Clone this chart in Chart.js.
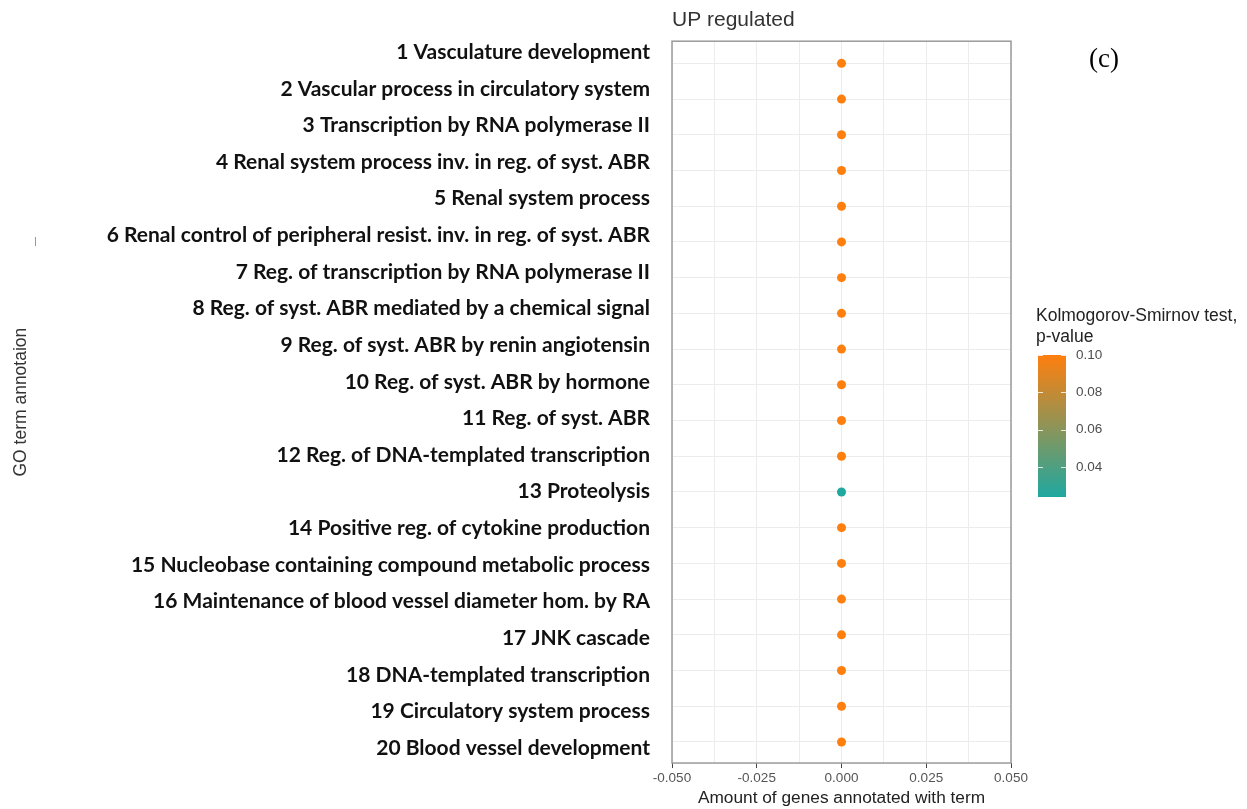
<!DOCTYPE html>
<html>
<head>
<meta charset="utf-8">
<script src="https://cdn.jsdelivr.net/npm/chart.js@4.4.1/dist/chart.umd.min.js"></script>
<style>
  html, body { margin: 0; padding: 0; background: #fff; }
  #wrap { width: 1247px; height: 809px; position: relative; }
</style>
</head>
<body>
<div id="wrap"><canvas id="c"></canvas></div>
<script>
  // GO terms, top to bottom
  const terms = [
    '1 Vasculature development',
    '2 Vascular process in circulatory system',
    '3 Transcription by RNA polymerase II',
    '4 Renal system process inv. in reg. of syst. ABR',
    '5 Renal system process',
    '6 Renal control of peripheral resist. inv. in reg. of syst. ABR',
    '7 Reg. of transcription by RNA polymerase II',
    '8 Reg. of syst. ABR mediated by a chemical signal',
    '9 Reg. of syst. ABR by renin angiotensin',
    '10 Reg. of syst. ABR by hormone',
    '11 Reg. of syst. ABR',
    '12 Reg. of DNA-templated transcription',
    '13 Proteolysis',
    '14 Positive reg. of cytokine production',
    '15 Nucleobase containing compound metabolic process',
    '16 Maintenance of blood vessel diameter hom. by RA',
    '17 JNK cascade',
    '18 DNA-templated transcription',
    '19 Circulatory system process',
    '20 Blood vessel development'
  ];
  const geneAmounts = [0, 0, 0, 0, 0, 0, 0, 0, 0, 0, 0, 0, 0, 0, 0, 0, 0, 0, 0, 0];
  const pValues = [0.10, 0.10, 0.10, 0.10, 0.10, 0.10, 0.10, 0.10, 0.10, 0.10,
                   0.10, 0.10, 0.024, 0.10, 0.10, 0.10, 0.10, 0.10, 0.10, 0.10];
  const legendTicks = [0.04, 0.06, 0.08, 0.10];

  const lowColor = [31, 168, 160];
  const highColor = [255, 127, 14];
  const pMin = Math.min(...pValues);
  const pMax = Math.max(...pValues);

  function pColor(p) {
    const t = (p - pMin) / (pMax - pMin);
    const c = lowColor.map((v, i) => Math.round(v + (highColor[i] - v) * t));
    return `rgb(${c[0]},${c[1]},${c[2]})`;
  }

  const points = geneAmounts.map((x, i) => ({ x: x, y: i + 1 }));
  const sans = '"Liberation Sans", Arial, sans-serif';

  const extras = {
    id: 'extras',
    afterDraw(chart) {
      const ctx = chart.ctx;
      const a = chart.chartArea;
      ctx.save();
      // panel border
      ctx.strokeStyle = '#9a9a9a';
      ctx.lineWidth = 1.5;
      ctx.strokeRect(a.left, a.top, a.right - a.left, a.bottom - a.top);

      // colour bar legend
      const bx = 1038, bw = 28, top = 355, bottom = 497;
      const yOf = p => bottom - (p - pMin) / (pMax - pMin) * (bottom - top);
      const g = ctx.createLinearGradient(0, bottom, 0, top);
      g.addColorStop(0, pColor(pMin));
      g.addColorStop(0.5, pColor((pMin + pMax) / 2));
      g.addColorStop(1, pColor(pMax));
      ctx.fillStyle = g;
      ctx.fillRect(bx, top, bw, bottom - top);

      ctx.fillStyle = '#222';
      ctx.font = '17.5px ' + sans;
      ctx.textAlign = 'left';
      ctx.textBaseline = 'middle';
      ctx.fillText('Kolmogorov-Smirnov test,', 1036, 316);
      ctx.fillText('p-value', 1036, 337);

      ctx.font = '13.5px ' + sans;
      ctx.fillStyle = '#4d4d4d';
      ctx.strokeStyle = 'rgba(255,255,255,0.8)';
      ctx.lineWidth = 1;
      legendTicks.forEach(p => {
        const y = Math.round(yOf(p)) + 0.5;
        ctx.beginPath();
        ctx.moveTo(bx, y); ctx.lineTo(bx + 5, y);
        ctx.moveTo(bx + bw - 5, y); ctx.lineTo(bx + bw, y);
        ctx.stroke();
        ctx.fillText(p.toFixed(2), 1076, yOf(p));
      });

      // panel tag
      ctx.fillStyle = '#000';
      ctx.font = '27px "Liberation Serif", "Times New Roman", serif';
      ctx.fillText('(c)', 1089, 60);

      // stray tick mark from the original figure
      ctx.strokeStyle = '#999';
      ctx.beginPath();
      ctx.moveTo(35.5, 237); ctx.lineTo(35.5, 246);
      ctx.stroke();
      ctx.restore();
    }
  };

  new Chart(document.getElementById('c').getContext('2d'), {
    type: 'scatter',
    data: {
      datasets: [{
        data: points,
        pointBackgroundColor: pValues.map(pColor),
        pointBorderWidth: 0,
        pointRadius: 4.5,
        pointHoverRadius: 4.5
      }]
    },
    options: {
      responsive: true,
      maintainAspectRatio: false,
      animation: false,
      layout: { padding: { left: 0, right: 236, top: 3, bottom: 0 } },
      plugins: {
        legend: { display: false },
        tooltip: { enabled: false },
        title: {
          display: true,
          text: 'UP regulated',
          align: 'start',
          fullSize: false,
          color: '#333',
          font: { family: sans, size: 21, weight: 'normal' },
          padding: { top: 5, bottom: 8 }
        }
      },
      scales: {
        x: {
          type: 'linear',
          min: -0.05,
          max: 0.05,
          border: { display: false },
          grid: {
            color: '#ececec',
            drawTicks: true,
            tickLength: 5,
            tickColor: c => Math.round(c.tick.value / 0.0125) % 2 === 0 ? '#444' : 'rgba(0,0,0,0)'
          },
          ticks: {
            stepSize: 0.0125,
            autoSkip: false,
            maxRotation: 0,
            padding: 2,
            color: '#555',
            font: { family: sans, size: 13.5 },
            callback: v => Math.round(v / 0.0125) % 2 === 0 ? v.toFixed(3) : ''
          },
          title: {
            display: true,
            text: 'Amount of genes annotated with term',
            color: '#222',
            font: { family: sans, size: 17.3 },
            padding: { top: 0, bottom: 0 }
          }
        },
        y: {
          type: 'linear',
          position: 'left',
          reverse: true,
          min: 0.38,
          max: 20.59,
          weight: 0,
          border: { display: false },
          grid: { color: '#ececec', drawTicks: false },
          ticks: { display: false, stepSize: 1, includeBounds: false }
        },
        yLabels: {
          type: 'linear',
          position: 'left',
          reverse: true,
          min: 0.70,
          max: 20.41,
          weight: 1,
          border: { display: false },
          grid: { display: false, drawTicks: false },
          ticks: {
            stepSize: 1,
            includeBounds: false,
            autoSkip: false,
            padding: 22,
            color: '#111',
            font: { family: 'Lato, "Open Sans", sans-serif', size: 21, weight: 'bold' },
            callback: v => Number.isInteger(v) ? terms[v - 1] : ''
          },
          title: {
            display: true,
            text: 'GO term annotaion',
            color: '#333',
            font: { family: sans, size: 17.5 },
            padding: { top: 11, bottom: 0 }
          },
          afterFit: scale => { scale.width = 672; }
        }
      }
    },
    plugins: [extras]
  });
</script>
</body>
</html>
